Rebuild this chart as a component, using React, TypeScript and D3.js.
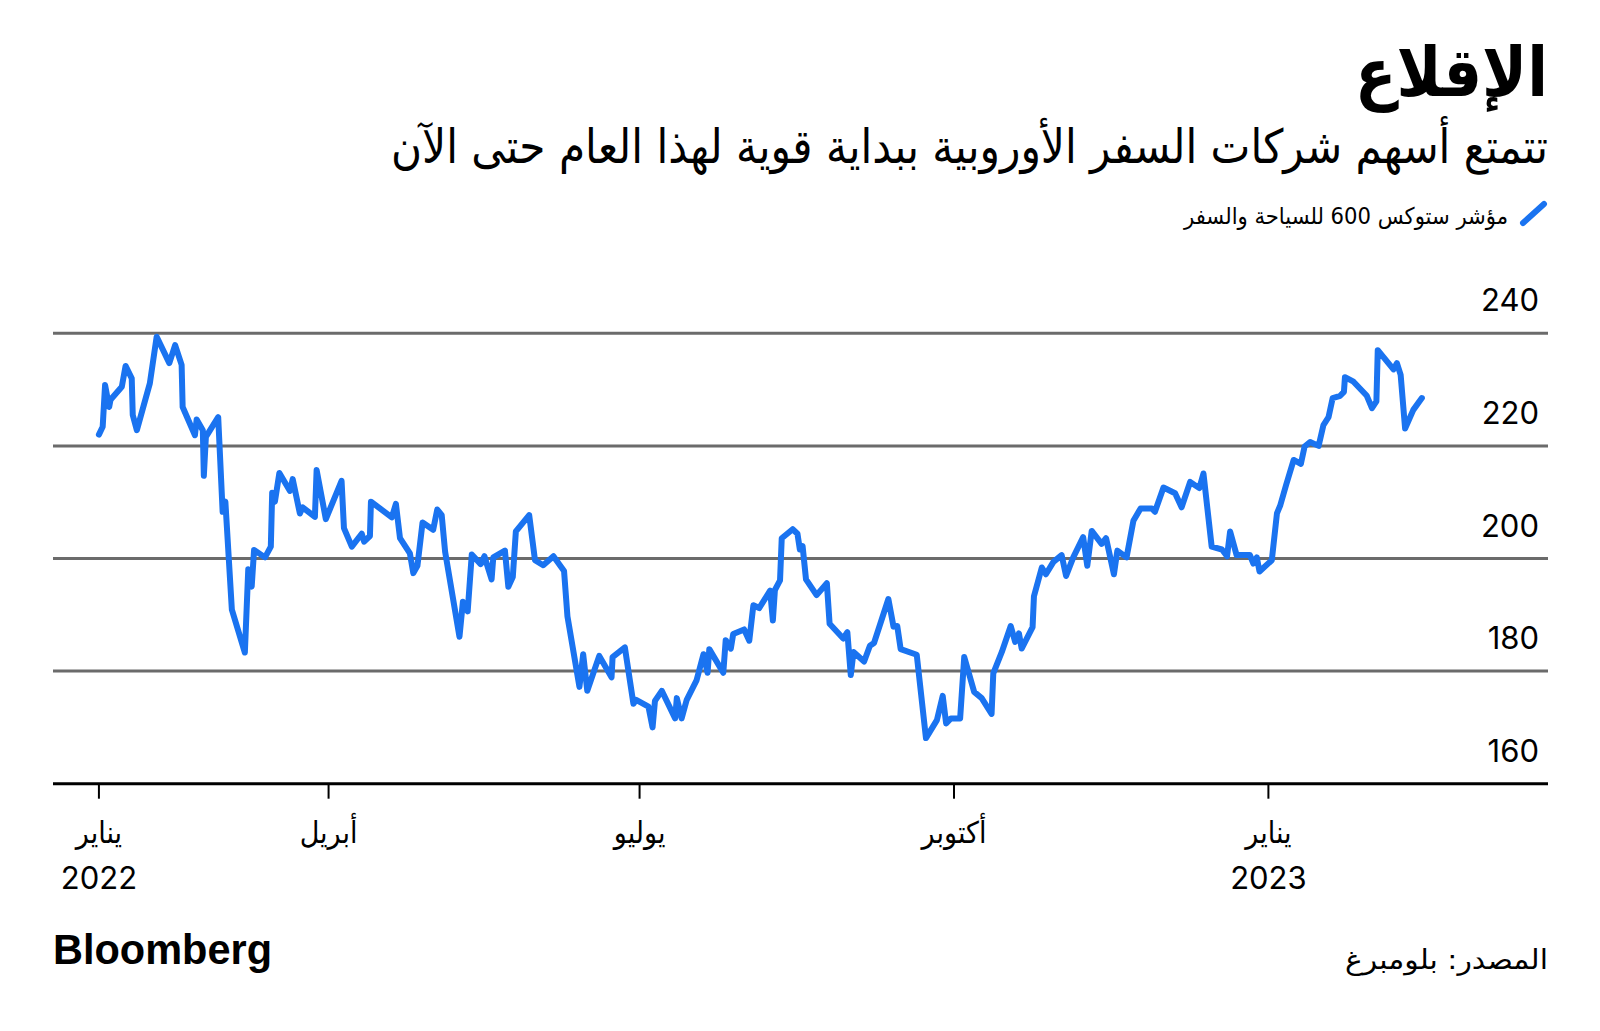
import React from "react";
import * as d3 from "d3";

const dayOffsets = [22.8,23.9,24.6,25.8,26.2,29.5,30.6,32.4,32.7,33.9,37.7,39.7,43.4,45.1,47.0,47.3,50.9,51.4,53.2,53.5,54.1,57.7,59.0,59.8,61.7,65.5,66.5,67.5,68.2,71.4,73.1,73.5,74.3,75.6,78.7,79.5,81.6,82.4,86.0,86.5,89.2,93.8,94.5,96.8,99.7,100.4,102.1,102.4,108.5,109.7,110.9,113.8,114.8,116.0,117.5,120.6,121.8,123.1,124.1,128.3,129.3,130.7,131.9,134.5,135.6,137.7,138.2,141.6,142.6,143.9,144.8,148.7,150.4,152.8,155.8,158.9,159.9,163.4,164.5,165.7,169.2,172.8,173.1,176.7,179.2,180.0,183.6,184.8,185.5,187.5,191.4,191.9,193.3,194.8,197.7,199.7,200.9,201.4,205.5,206.2,207.7,208.4,211.6,213.1,214.3,216.0,219.2,220.0,220.6,222.1,222.6,225.8,227.2,227.9,228.7,229.7,232.8,235.8,236.6,240.6,241.8,242.8,243.6,246.7,248.4,249.6,253.8,255.3,256.4,257.4,262.1,264.8,268.0,269.7,270.7,272.1,274.8,276.0,277.5,278.9,281.1,284.0,284.5,287.0,289.6,290.9,292.0,292.8,296.0,296.4,298.7,299.9,302.1,304.5,305.8,307.9,310.8,312.0,313.3,316.2,317.5,319.8,320.8,323.5,325.5,327.6,330.9,331.8,334.3,337.7,339.6,342.1,344.8,346.0,348.4,351.4,352.9,353.8,355.7,359.6,360.6,361.6,362.4,366.0,367.5,368.5,370.2,372.4,374.5,375.6,377.2,379.7,381.1,382.6,383.8,386.0,387.1,387.4,389.9,393.8,395.3,396.6,397.0,401.6,402.6,403.7,405.0,407.4,409.9];

const values = [222.0,223.4,230.8,226.9,228.2,230.5,234.2,232.0,225.5,222.8,231.1,239.4,234.7,237.9,234.4,226.9,221.9,224.7,222.8,214.7,221.6,225.1,208.3,210.1,190.9,183.3,198.1,195.0,201.5,200.2,202.1,211.7,210.1,215.2,212.0,214.1,208.0,209.1,207.4,215.7,207.0,213.8,205.4,202.1,204.4,203.0,204.0,210.1,207.3,209.7,203.6,200.9,197.4,198.7,206.4,205.1,208.7,207.7,201.2,186.1,192.3,190.6,200.7,199.0,200.4,196.3,200.2,201.4,195.0,196.7,204.8,207.7,199.7,198.8,200.4,197.8,189.7,177.2,183.0,176.5,182.7,178.9,182.5,184.2,174.2,174.9,173.7,170.0,174.7,176.5,171.6,175.2,171.6,174.9,178.4,183.0,179.7,183.9,179.7,185.5,184.0,186.6,187.4,185.4,191.7,191.2,194.3,189.0,194.4,196.1,203.6,205.2,204.4,201.6,202.2,196.3,193.5,195.6,188.4,185.8,186.9,179.3,183.4,181.7,184.5,185.0,192.8,187.9,188.0,183.9,182.9,168.1,171.3,175.6,170.7,171.6,171.6,182.5,179.3,176.3,175.2,172.4,179.6,183.4,188.0,185.2,186.7,184.0,187.8,193.3,198.4,197.2,199.4,200.6,196.9,200.2,203.8,198.7,204.9,202.6,203.6,197.2,201.4,200.2,206.7,208.9,208.9,208.3,212.6,211.6,209.1,213.6,212.5,215.1,202.1,201.6,200.4,204.8,200.6,200.6,199.1,200.2,197.7,199.7,208.0,209.5,213.1,217.5,216.8,219.9,220.7,220.0,223.7,225.1,228.5,228.9,229.6,232.2,231.4,228.9,226.7,227.9,237.0,233.6,234.7,232.6,223.1,226.4,228.5];

const yTicks = [160, 180, 200, 220, 240];
const tickMonths = ["يناير", "أبريل", "يوليو", "أكتوبر", "يناير"];
const tickYears = ["2022", "", "", "", "2023"];
const tickDates = [null, "2022-04-01", "2022-07-01", "2022-10-01", "2023-01-01"];

const title = "الإقلاع";
const subtitle = "تتمتع أسهم شركات السفر الأوروبية ببداية قوية لهذا العام حتى الآن";
const legendLabel = "مؤشر ستوكس 600 للسياحة والسفر";
const sourceLabel = "المصدر: بلومبرغ";

const base = Date.UTC(2022, 0, 1);
const toDate = (d: number) => new Date(base + d * 86400000);

export default function App() {
  const left = 53;
  const right = 1548;
  const x = d3
    .scaleUtc()
    .domain([new Date(Date.UTC(2022, 0, 1)), new Date(Date.UTC(2023, 0, 1))])
    .range([21, 1268.4]);
  const y = d3.scaleLinear().domain([160, 240]).range([783.7, 333.3]);

  const data = dayOffsets.map((d, i) => ({ date: toDate(d), v: values[i] }));
  const line = d3
    .line<{ date: Date; v: number }>()
    .x((d) => x(d.date))
    .y((d) => y(d.v));

  const ticks = tickDates.map((s, i) => ({
    date: s ? new Date(s + "T00:00:00Z") : toDate(dayOffsets[0]),
    month: tickMonths[i],
    year: tickYears[i],
  }));

  const arabic = "'DejaVu Sans Condensed', 'DejaVu Sans', sans-serif";
  const latin = "Inter, 'Liberation Sans', sans-serif";
  const blue = "#1a73f0";

  return (
    <svg
      width={1600}
      height={1031}
      style={{ position: "absolute", left: 0, top: 0, background: "#fff" }}
    >
      <rect x={0} y={0} width={1600} height={1031} fill="#fff" />
      <text
        x={right}
        y={96}
        textAnchor="end"
        fontFamily={arabic}
        fontWeight="bold"
        fontSize={68}
        textLength={193}
        lengthAdjust="spacingAndGlyphs"
        fill="#000"
      >
        {title}
      </text>
      <text
        x={right}
        y={163}
        textAnchor="end"
        fontFamily={arabic}
        fontSize={47}
        textLength={1157}
        lengthAdjust="spacingAndGlyphs"
        fill="#000"
      >
        {subtitle}
      </text>
      <line
        x1={1523}
        y1={223}
        x2={1544}
        y2={204}
        stroke={blue}
        strokeWidth={6}
        strokeLinecap="round"
      />
      <text
        x={1508}
        y={224}
        textAnchor="end"
        fontFamily={arabic}
        fontSize={23}
        textLength={324}
        lengthAdjust="spacingAndGlyphs"
        fill="#000"
      >
        {legendLabel}
      </text>

      {yTicks
        .filter((t) => t !== 160)
        .map((t) => (
          <line
            key={"g" + t}
            x1={left}
            x2={right}
            y1={y(t)}
            y2={y(t)}
            stroke="#6b6b6b"
            strokeWidth={3}
          />
        ))}
      {yTicks.map((t) => (
        <text
          key={"yl" + t}
          x={1539}
          y={y(t) - 22}
          textAnchor="end"
          fontFamily={latin}
          fontSize={31}
          fill="#000"
        >
          {t}
        </text>
      ))}

      <path
        d={line(data) || ""}
        fill="none"
        stroke={blue}
        strokeWidth={6}
        strokeLinejoin="round"
        strokeLinecap="round"
      />

      <line x1={left} x2={right} y1={y(160)} y2={y(160)} stroke="#000" strokeWidth={3} />
      {ticks.map((t, i) => (
        <g key={"xt" + i} transform={`translate(${x(t.date)},0)`}>
          <line y1={y(160)} y2={y(160) + 15} stroke="#000" strokeWidth={2} />
          <text
            x={0}
            y={843}
            textAnchor="middle"
            fontFamily={arabic}
            fontSize={30}
            fill="#000"
          >
            {t.month}
          </text>
          {t.year && (
            <text
              x={0}
              y={889}
              textAnchor="middle"
              fontFamily={latin}
              fontSize={31}
              fill="#000"
            >
              {t.year}
            </text>
          )}
        </g>
      ))}

      <text
        x={left}
        y={964}
        fontFamily="'Liberation Sans', Arial, sans-serif"
        fontWeight="bold"
        fontSize={42}
        textLength={219}
        lengthAdjust="spacingAndGlyphs"
        fill="#000"
      >
        Bloomberg
      </text>
      <text
        x={right}
        y={969}
        textAnchor="end"
        fontFamily={arabic}
        fontSize={27}
        textLength={203}
        lengthAdjust="spacingAndGlyphs"
        fill="#000"
      >
        {sourceLabel}
      </text>
    </svg>
  );
}
